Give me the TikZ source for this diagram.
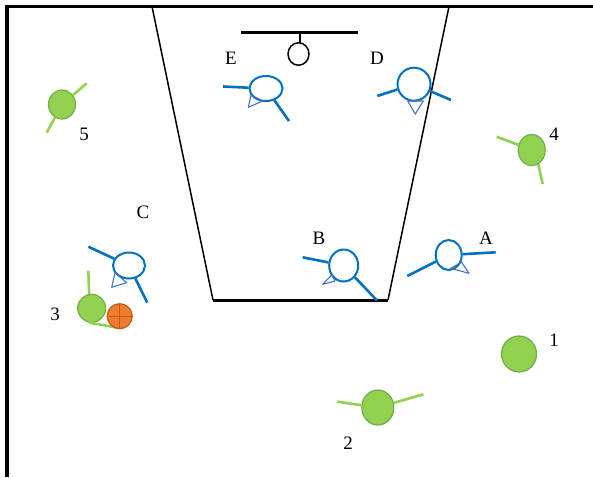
\documentclass[tikz,border=0pt]{standalone}
\usepackage{fontspec}
\setmainfont{Liberation Serif}
\usetikzlibrary{shapes.geometric}
\definecolor{pblue}{HTML}{0070C0}
\definecolor{tblue}{HTML}{4472C4}
\definecolor{pgreen}{HTML}{92D050}
\definecolor{pgreenline}{HTML}{70AD47}
\definecolor{borange}{HTML}{ED7D31}
\definecolor{borangeline}{HTML}{C55A11}
\begin{document}
\begin{tikzpicture}[x=1pt,y=-1pt,
  offense/.style={draw=pblue,line width=2pt,fill=white,ellipse,inner sep=0pt},
  defense/.style={draw=pgreenline,line width=1.2pt,fill=pgreen,ellipse,inner sep=0pt},
  barm/.style={draw=pblue,line width=2.6pt},
  garm/.style={draw=pgreen,line width=2.6pt},
  tri/.style={draw=tblue,line width=1.1pt,line join=round},
  lbl/.style={font=\fontsize{19}{19}\selectfont,inner sep=0pt},
  lane/.style={line width=1.5pt}]
\useasboundingbox (0,0) rectangle (593,477);
% court border
\draw[line width=3.5pt] (7,477) -- (7,6.5) -- (593,6.5);
% lane
\draw[lane] (152,6.5) -- (213,300);
\draw[lane] (449,6.5) -- (388,300);
\draw[line width=3pt] (213,300) -- (388,300);
% basket
\draw[line width=3pt] (241,32) -- (358,32);
\draw[line width=2.5pt] (300,32) -- (300,43);
\node[draw,ellipse,line width=1.5pt,minimum width=21pt,minimum height=22.5pt,inner sep=0pt] (ring) at (298.5,54) {};

% ---- offense players (blue) ----
% E
\node[offense,minimum width=33pt,minimum height=25pt] (E) at (266,88.5) {};
\coordinate (E1) at (223,86.5); \coordinate (E2) at (289,121);
\draw[barm] (E) -- (E1); \draw[barm] (E) -- (E2);
\draw[tri] (251,95) -- (248.3,107.3) -- (262.7,101) -- cycle;
% D
\node[offense,minimum width=33pt,minimum height=33pt] (D) at (414,84.2) {};
\coordinate (D1) at (377.3,96); \coordinate (D2) at (451,100);
\draw[barm] (D) -- (D1); \draw[barm] (D) -- (D2);
\draw[tri] (407.7,101) -- (423.3,101) -- (415.3,114) -- cycle;
% B
\node[offense,minimum width=29pt,minimum height=32pt] (B) at (343.7,265.5) {};
\coordinate (B1) at (302.7,257.3); \coordinate (B2) at (377,300.5);
\draw[barm] (B) -- (B1); \draw[barm] (B) -- (B2);
\draw[tri] (331.7,275) -- (322.7,284.3) -- (335,281) -- cycle;
% A
\node[offense,minimum width=26pt,minimum height=30pt] (A) at (448.7,255) {};
\coordinate (A1) at (407.3,276); \coordinate (A2) at (495.7,252.3);
\draw[barm] (A) -- (A1); \draw[barm] (A) -- (A2);
\draw[tri] (450.7,268.3) -- (461.7,262.3) -- (469,273.3) -- cycle;
% C
\node[offense,minimum width=32pt,minimum height=26pt] (C) at (129,265.5) {};
\coordinate (C1) at (88.3,246.7); \coordinate (C2) at (147.3,302.7);
\draw[barm] (C) -- (C1); \draw[barm] (C) -- (C2);
\draw[tri] (115,272.7) -- (111.7,287.3) -- (126.7,282.7) -- cycle;

% ---- defense players (green) ----
% 5
\coordinate (F1) at (86.7,83.3); \coordinate (F2) at (46.7,132.7);
\node[defense,minimum width=27pt,minimum height=29pt] (P5) at (62,104.5) {};
\draw[garm] (P5) -- (F1); \draw[garm] (P5) -- (F2);
% 4
\node[defense,minimum width=27pt,minimum height=31pt] (P4) at (531.7,150) {};
\coordinate (G1) at (496.7,136.7); \coordinate (G2) at (542.7,184);
\draw[garm] (P4) -- (G1); \draw[garm] (P4.-65) -- (G2);
% 3
\node[defense,minimum width=28pt,minimum height=28pt] (P3) at (91.7,308.3) {};
\coordinate (H1) at (88.3,270.7); \coordinate (H2) at (118.3,327.7);
\draw[garm] (P3.100) -- (H1); \draw[garm] (P3.-100) -- (H2);
% ball
\node[circle,draw=borangeline,fill=borange,line width=1.2pt,minimum size=25pt,inner sep=0pt] (ball) at (119.7,316.2) {};
\draw[borangeline,line width=1.2pt] (ball.north) -- (ball.south) (ball.west) -- (ball.east);
% 2
\node[defense,minimum width=32pt,minimum height=35pt] (P2) at (377.8,407.5) {};
\coordinate (K1) at (337.3,401.7); \coordinate (K2) at (423.3,394.3);
\draw[garm] (P2) -- (K1); \draw[garm] (P2) -- (K2);
% 1
\node[defense,minimum width=35pt,minimum height=36pt] (P1) at (519,354) {};

% labels
\node[lbl] (lE) at (231,58) {E};
\node[lbl] (lD) at (377,58) {D};
\node[lbl] (lB) at (319,238) {B};
\node[lbl] (lA) at (486,238) {A};
\node[lbl] (lC) at (143,212) {C};
\node[lbl] (l5) at (84,134) {5};
\node[lbl] (l4) at (554,134) {4};
\node[lbl] (l3) at (55,314) {3};
\node[lbl] (l2) at (348,443) {2};
\node[lbl] (l1) at (554,340) {1};
\end{tikzpicture}
\end{document}
